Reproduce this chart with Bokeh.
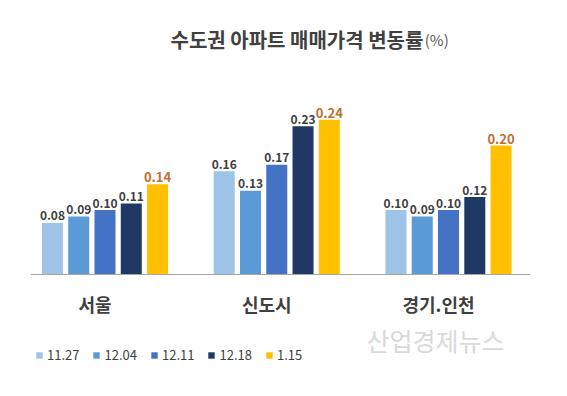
from bokeh.plotting import figure
from bokeh.models import ColumnDataSource, Label, Legend, LegendItem, Span, Range1d
from bokeh.transform import dodge
from bokeh.core.properties import value
from bokeh.embed import file_html
from bokeh.resources import INLINE

# ---- data ----
regions = ["서울", "신도시", "경기.인천"]
periods = ["11.27", "12.04", "12.11", "12.18", "1.15"]
v_1127 = [0.08, 0.16, 0.10]
v_1204 = [0.09, 0.13, 0.09]
v_1211 = [0.10, 0.17, 0.10]
v_1218 = [0.11, 0.23, 0.12]
v_0115 = [0.14, 0.24, 0.20]
series = [v_1127, v_1204, v_1211, v_1218, v_0115]

colors = ["#9DC3E6", "#5B9BD5", "#4472C4", "#203864", "#FFC000"]
label_colors = ["#404040", "#404040", "#404040", "#404040", "#C0702F"]
label_sizes = ["12px", "12px", "12px", "12px", "13px"]
FONT = "Noto Sans CJK KR"

p = figure(width=551, height=380, output_backend="svg", toolbar_location=None,
           x_range=Range1d(-0.4338, 2.4774), y_range=Range1d(-0.1643, 0.4124),
           x_axis_location=None, y_axis_location=None,
           min_border_left=30, min_border_right=21, min_border_top=8, min_border_bottom=0,
           outline_line_color=None, background_fill_color="white", border_fill_color="white")
p.xgrid.grid_line_color = None
p.ygrid.grid_line_color = None

p.add_layout(Span(location=0, dimension="width", line_color="#a6a6a6", line_width=1))

pitch = 0.153
bar_w = 0.1223
items = []
for j, vals in enumerate(series):
    off = (j - 2) * pitch
    src = ColumnDataSource(dict(x=list(range(len(regions))), top=vals,
                                label=[f"{v:.2f}" for v in vals]))
    r = p.vbar(x=dodge("x", off), top="top", bottom=0, width=bar_w,
               fill_color=colors[j], line_color=None, source=src)
    p.text(x=dodge("x", off), y="top", text="label", source=src,
           text_align="center", text_baseline="alphabetic", y_offset=-7,
           text_font=value(FONT), text_font_size=label_sizes[j],
           text_font_style="bold", text_color=label_colors[j])
    items.append(LegendItem(label=periods[j], renderers=[r]))

cat_src = ColumnDataSource(dict(x=list(range(len(regions))), y=[0] * len(regions), name=regions))
p.text(x="x", y="y", text="name", source=cat_src, text_align="center",
       text_baseline="middle", x_offset=-10, y_offset=29,
       text_font=value(FONT), text_font_size="18px", text_font_style="bold",
       text_color="#404040")

legend = Legend(items=items, orientation="horizontal", location=(5, 16),
                glyph_width=8, glyph_height=8, label_height=14, label_standoff=4,
                spacing=13, padding=0, margin=0, border_line_color=None,
                background_fill_alpha=0, label_text_font=FONT,
                label_text_font_size="13px", label_text_color="#404040")
p.add_layout(legend)

p.add_layout(Label(x=0.3814, y=0.3651, text="수도권 아파트 매매가격 변동률",
                   text_align="left", text_baseline="middle", text_font=FONT,
                   text_font_size="20px", text_font_style="bold", text_color="#404040"))
p.add_layout(Label(x=1.862, y=0.3651, text="(%)", text_align="left",
                   text_baseline="middle", text_font=FONT, text_font_size="15px",
                   text_color="#595959"))
p.add_layout(Label(x=1.924, y=-0.1008, text="산업경제뉴스", text_align="center",
                   text_baseline="middle", text_font=FONT, text_font_size="25px",
                   text_color="#d9d9d9"))

open("out.html", "w").write(file_html(p, INLINE))
